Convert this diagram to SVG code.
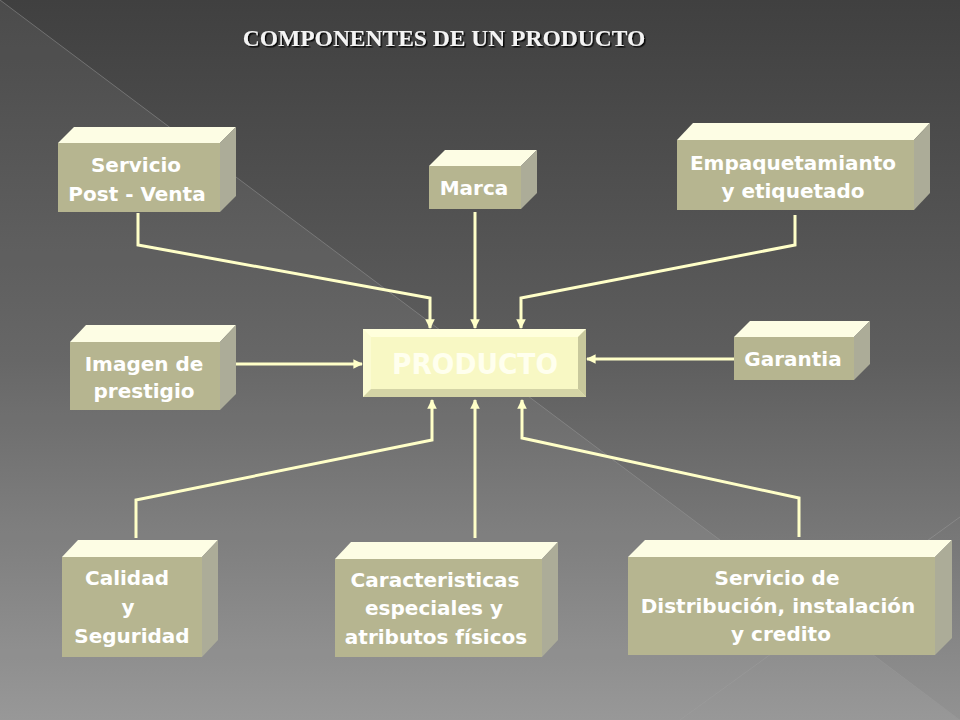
<svg xmlns="http://www.w3.org/2000/svg" width="960" height="720" viewBox="0 0 960 720">
  <defs>
    <linearGradient id="bg" x1="0" y1="0" x2="0" y2="1">
      <stop offset="0" stop-color="#404040"/>
      <stop offset="0.5" stop-color="#5e5e5e"/>
      <stop offset="1" stop-color="#929292"/>
    </linearGradient>
    <marker id="arr" viewBox="0 0 10 10" refX="9" refY="5" markerWidth="3.2" markerHeight="3.2" orient="auto">
      <path d="M0,0 L10,5 L0,10 z" fill="#ffffc8"/>
    </marker>
    <filter id="sh" x="-5%" y="-30%" width="110%" height="160%">
      <feDropShadow dx="1.5" dy="1.5" stdDeviation="0.6" flood-color="#000" flood-opacity="0.9"/>
    </filter>
  </defs>
  <style>
    .front { fill: #b6b590; }
    .top { fill: #fdfde4; }
    .side { fill: #acac98; }
    .lbl { font-family: "DejaVu Sans", Verdana, sans-serif; font-weight: bold; font-size: 20px; fill: #ffffff; text-anchor: middle; }
    .con { fill: none; stroke: #ffffc8; stroke-width: 3; stroke-linejoin: miter; }
    .arrow { marker-end: url(#arr); }
  </style>

  <!-- background -->
  <rect x="0" y="0" width="960" height="720" fill="url(#bg)"/>
  <polygon points="0,0 0,720 960,720" fill="#ffffff" fill-opacity="0.06"/>
  <line x1="0" y1="0" x2="960" y2="720" stroke="#9a9a9a" stroke-opacity="0.5" stroke-width="1"/>
  <line x1="960" y1="517" x2="680" y2="720" stroke="#a0a0a0" stroke-opacity="0.45" stroke-width="1"/>

  <!-- title -->
  <text x="444" y="46" font-family="'Liberation Serif', 'Times New Roman', serif" font-weight="bold" font-size="23.5" fill="#f4f4f4" text-anchor="middle" filter="url(#sh)">COMPONENTES DE UN PRODUCTO</text>

  <!-- connectors -->
  <g id="connectors">
    <path class="con arrow" d="M138,213 V245 L430,298 V328"/>
    <path class="con arrow" d="M475,212 V328"/>
    <path class="con arrow" d="M795,215 V245 L521,298 V328"/>
    <path class="con arrow" d="M225,364 H362"/>
    <path class="con arrow" d="M734,359 H587"/>
    <path class="con arrow" d="M136,538 V500 L432,440 V400"/>
    <path class="con arrow" d="M475,538 V400"/>
    <path class="con arrow" d="M799,537 V498 L522,438 V400"/>
  </g>

  <!-- central node -->
  <g id="producto">
    <rect x="363" y="329" width="223" height="68" fill="#ffffcc"/>
    <polygon points="363,329 586,329 578,337 371,337" fill="#ffffdc"/>
    <polygon points="363,329 371,337 371,389 363,397" fill="#fbfbd2"/>
    <polygon points="363,397 586,397 578,389 371,389" fill="#d4d4a6"/>
    <polygon points="586,329 586,397 578,389 578,337" fill="#c8c89c"/>
    <rect x="371" y="337" width="207" height="52" fill="#f8f8c4"/>
    <text x="475" y="374" font-family="'DejaVu Sans', Verdana, sans-serif" font-weight="bold" font-size="28" fill="#ffffee" text-anchor="middle" textLength="166" lengthAdjust="spacingAndGlyphs">PRODUCTO</text>
  </g>

  <!-- Servicio Post - Venta -->
  <g id="servicio-post-venta">
    <polygon class="top" points="58,143 74,127 236,127 220,143"/>
    <polygon class="side" points="220,143 236,127 236,196 220,212"/>
    <rect class="front" x="58" y="143" width="162" height="69"/>
    <text class="lbl" x="136" y="172">Servicio</text>
    <text class="lbl" x="137" y="201">Post - Venta</text>
  </g>

  <!-- Marca -->
  <g id="marca">
    <polygon class="top" points="429,166 445,150 537,150 521,166"/>
    <polygon class="side" points="521,166 537,150 537,193 521,209"/>
    <rect class="front" x="429" y="166" width="92" height="43"/>
    <text class="lbl" x="474" y="195">Marca</text>
  </g>

  <!-- Empaquetamianto -->
  <g id="empaquetamianto">
    <polygon class="top" points="677,140 693,123 930,123 914,140"/>
    <polygon class="side" points="914,140 930,123 930,193 914,210"/>
    <rect class="front" x="677" y="140" width="237" height="70"/>
    <text class="lbl" x="793" y="170">Empaquetamianto</text>
    <text class="lbl" x="793" y="198">y etiquetado</text>
  </g>

  <!-- Imagen de prestigio -->
  <g id="imagen">
    <polygon class="top" points="70,342 86,325 236,325 220,342"/>
    <polygon class="side" points="220,342 236,325 236,394 220,410"/>
    <rect class="front" x="70" y="342" width="150" height="68"/>
    <text class="lbl" x="144" y="371">Imagen de</text>
    <text class="lbl" x="144" y="398">prestigio</text>
  </g>

  <!-- Garantia -->
  <g id="garantia">
    <polygon class="top" points="734,337 750,321 870,321 854,337"/>
    <polygon class="side" points="854,337 870,321 870,364 854,380"/>
    <rect class="front" x="734" y="337" width="120" height="43"/>
    <text class="lbl" x="793" y="366">Garantia</text>
  </g>

  <!-- Calidad y Seguridad -->
  <g id="calidad">
    <polygon class="top" points="62,557 78,540 218,540 202,557"/>
    <polygon class="side" points="202,557 218,540 218,640 202,657"/>
    <rect class="front" x="62" y="557" width="140" height="100"/>
    <text class="lbl" x="127" y="585">Calidad</text>
    <text class="lbl" x="128" y="614">y</text>
    <text class="lbl" x="132" y="643">Seguridad</text>
  </g>

  <!-- Caracteristicas -->
  <g id="caracteristicas">
    <polygon class="top" points="335,559 351,542 558,542 542,559"/>
    <polygon class="side" points="542,559 558,542 558,640 542,657"/>
    <rect class="front" x="335" y="559" width="207" height="98"/>
    <text class="lbl" x="435" y="587">Caracteristicas</text>
    <text class="lbl" x="434" y="615">especiales y</text>
    <text class="lbl" x="436" y="644">atributos físicos</text>
  </g>

  <!-- Servicio de Distribucion -->
  <g id="servicio-distribucion">
    <polygon class="top" points="628,557 645,540 952,540 935,557"/>
    <polygon class="side" points="935,557 952,540 952,638 935,655"/>
    <rect class="front" x="628" y="557" width="307" height="98"/>
    <text class="lbl" x="777" y="585">Servicio de</text>
    <text class="lbl" x="778" y="613">Distribución, instalación</text>
    <text class="lbl" x="781" y="641">y credito</text>
  </g>
</svg>
